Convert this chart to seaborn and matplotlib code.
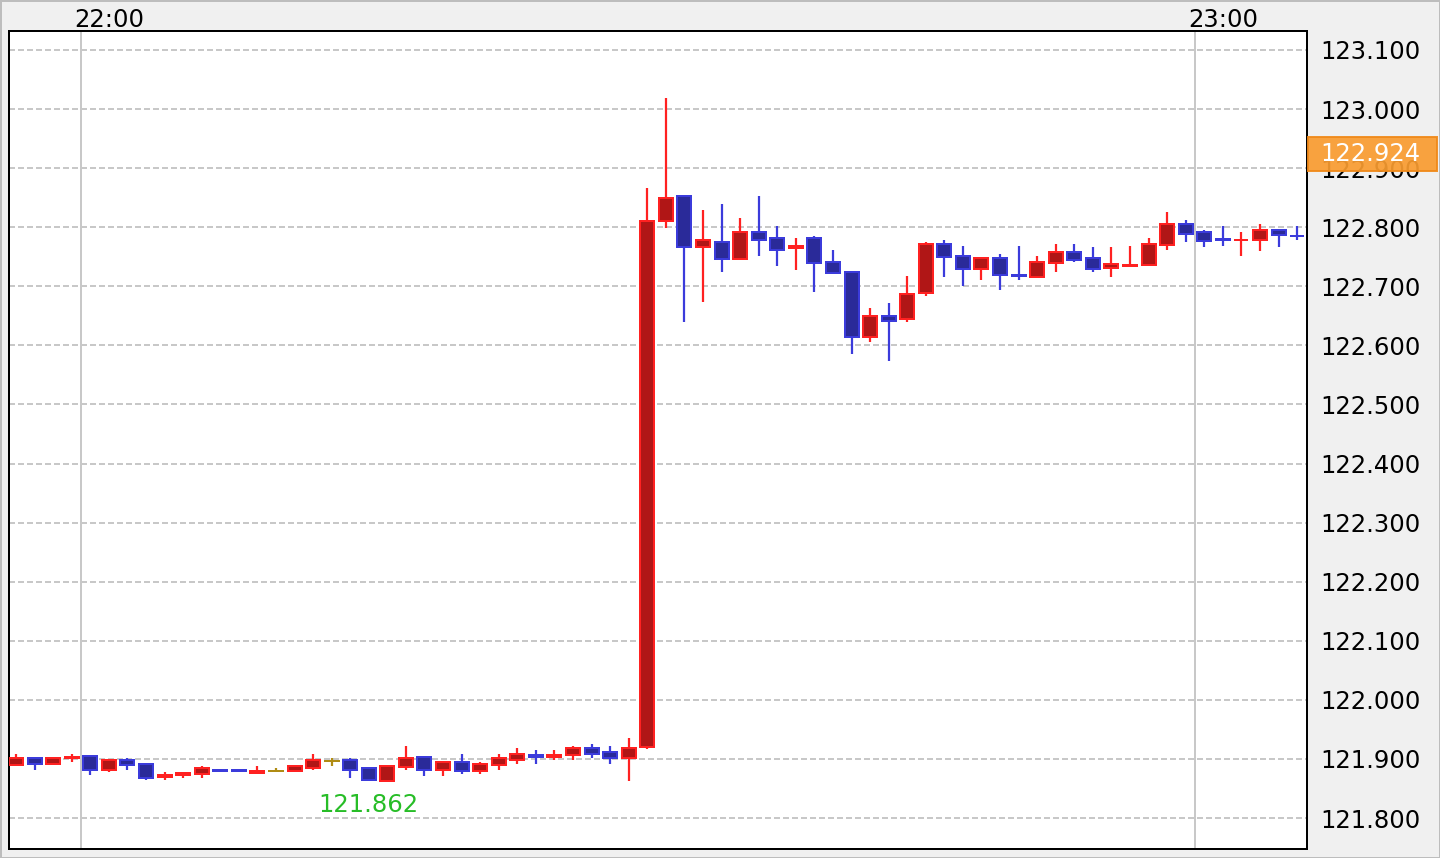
import numpy as np
import pandas as pd
import matplotlib
matplotlib.use("Agg")
import matplotlib.pyplot as plt
import matplotlib.transforms as mtransforms
from matplotlib.patches import Rectangle
import seaborn as sns

# 1-minute candles, 21:56 .. 23:05
times = pd.date_range("21:56", periods=70, freq="min").strftime("%H:%M").tolist()
opens = [121.890, 121.901, 121.892, 121.901, 121.905, 121.882, 121.898, 121.891, 121.869, 121.873,
         121.875, 121.882, 121.882, 121.877, 121.880, 121.879, 121.885, 121.897, 121.898, 121.884,
         121.863, 121.886, 121.904, 121.882, 121.894, 121.879, 121.889, 121.899, 121.906, 121.904,
         121.906, 121.918, 121.911, 121.902, 121.921, 122.810, 122.853, 122.766, 122.775, 122.746,
         122.792, 122.782, 122.765, 122.782, 122.741, 122.724, 122.614, 122.650, 122.644, 122.688,
         122.772, 122.751, 122.729, 122.748, 122.719, 122.716, 122.739, 122.758, 122.748, 122.731,
         122.734, 122.736, 122.770, 122.805, 122.792, 122.780, 122.778, 122.779, 122.796, 122.786]
highs = [121.908, 121.901, 121.901, 121.908, 121.905, 121.898, 121.902, 121.891, 121.878, 121.876,
         121.888, 121.882, 121.882, 121.888, 121.885, 121.888, 121.908, 121.902, 121.902, 121.884,
         121.888, 121.922, 121.904, 121.894, 121.908, 121.895, 121.908, 121.919, 121.915, 121.915,
         121.922, 121.925, 121.922, 121.935, 122.867, 123.019, 122.853, 122.829, 122.840, 122.816,
         122.853, 122.802, 122.782, 122.786, 122.762, 122.724, 122.664, 122.671, 122.718, 122.775,
         122.779, 122.769, 122.748, 122.755, 122.769, 122.751, 122.771, 122.771, 122.766, 122.766,
         122.769, 122.782, 122.826, 122.813, 122.795, 122.802, 122.792, 122.806, 122.796, 122.802]
lows = [121.890, 121.882, 121.892, 121.895, 121.872, 121.878, 121.882, 121.864, 121.864, 121.868,
        121.868, 121.880, 121.880, 121.877, 121.880, 121.879, 121.881, 121.888, 121.868, 121.862,
        121.863, 121.881, 121.871, 121.871, 121.875, 121.875, 121.881, 121.892, 121.892, 121.898,
        121.898, 121.902, 121.892, 121.863, 121.916, 122.799, 122.640, 122.674, 122.725, 122.746,
        122.752, 122.735, 122.728, 122.691, 122.722, 122.586, 122.606, 122.573, 122.640, 122.684,
        122.715, 122.701, 122.711, 122.694, 122.711, 122.715, 122.725, 122.741, 122.725, 122.715,
        122.734, 122.736, 122.762, 122.775, 122.766, 122.769, 122.752, 122.759, 122.766, 122.779]
closes = [121.901, 121.892, 121.901, 121.903, 121.882, 121.898, 121.889, 121.868, 121.872, 121.876,
          121.884, 121.880, 121.880, 121.879, 121.880, 121.888, 121.898, 121.897, 121.882, 121.865,
          121.888, 121.901, 121.882, 121.894, 121.879, 121.891, 121.901, 121.908, 121.904, 121.906,
          121.918, 121.909, 121.902, 121.918, 122.811, 122.849, 122.766, 122.778, 122.746, 122.792,
          122.779, 122.762, 122.769, 122.739, 122.722, 122.614, 122.650, 122.641, 122.687, 122.772,
          122.749, 122.729, 122.748, 122.719, 122.717, 122.741, 122.758, 122.745, 122.729, 122.737,
          122.736, 122.772, 122.805, 122.789, 122.776, 122.778, 122.779, 122.796, 122.787, 122.785]
y_ticks = [121.8, 121.9, 122.0, 122.1, 122.2, 122.3, 122.4, 122.5, 122.6, 122.7, 122.8, 122.9, 123.0, 123.1]
hour_marks = ["22:00", "23:00"]
min_label = "121.862"
last_price = 122.924

df = pd.DataFrame({"time": times, "open": opens, "high": highs, "low": lows, "close": closes})
t = pd.to_datetime(df["time"], format="%H:%M")
t0 = pd.to_datetime("22:00", format="%H:%M")
df["x"] = (t - t0).dt.total_seconds() / 60 + 0.5
df["dir"] = np.sign(df["close"] - df["open"])

UP_EDGE, UP_FILL = "#ff2121", "#b01616"
DN_EDGE, DN_FILL = "#3b3bdb", "#2a2a99"
DOJI = "#b08c14"
GRID = "#c8c8c8"
FS = 17.5
LW = 1.44  # 2 px

sns.set_theme(style="white")
plt.rcParams["font.family"] = ["DejaVu Sans"]

fig = plt.figure(figsize=(14.4, 8.58), dpi=100)
fig.patch.set_facecolor("#f0f0f0")
fig.patch.set_edgecolor("#bdbdbd")
fig.patch.set_linewidth(2)
ax = fig.add_axes([9 / 1440, 1 - 849 / 858, 1298 / 1440, 818 / 858])
ax.set_facecolor("white")

ax.set_xlim(-72 / 18.567, 1226 / 18.567)
ax.set_ylim(121.8 - 31 / 590.8, 123.1 + 19 / 590.8)

# grid
for v in y_ticks:
    ax.axhline(v, color=GRID, lw=LW, dashes=[3, 1.5], zorder=0)
for lab in hour_marks:
    xm = ((pd.to_datetime(lab, format="%H:%M") - t0).total_seconds()) / 60
    ax.axvline(xm, color=GRID, lw=LW, zorder=0)
    ax.annotate(lab, xy=(xm, 1), xycoords=("data", "axes fraction"),
                xytext=(-5, 3), textcoords="offset points",
                ha="left", va="baseline", fontsize=FS, color="black", annotation_clip=False)

# candles
for d, edge, fill in [(1, UP_EDGE, UP_FILL), (-1, DN_EDGE, DN_FILL), (0, DOJI, DOJI)]:
    sub = df[df["dir"] == d]
    ax.vlines(sub["x"], sub["low"], sub["high"], color=edge, lw=1.6, zorder=2)
    if d == 0:
        ax.hlines(sub["open"], sub["x"] - 0.43, sub["x"] + 0.43, color=edge, lw=LW, zorder=3)
    else:
        lo = np.minimum(sub["open"], sub["close"])
        ax.bar(sub["x"], (sub["close"] - sub["open"]).abs(), bottom=lo, width=0.754,
               color=fill, edgecolor=edge, linewidth=LW, zorder=3)

# lowest low label
imin = df["low"].idxmin()
ax.annotate(min_label, xy=(df.loc[imin, "x"], df.loc[imin, "low"]),
            xytext=(0, -8.5), textcoords="offset points", ha="center", va="top",
            fontsize=FS, color="#27bd27")

# axis
ax.yaxis.tick_right()
ax.set_yticks(y_ticks)
ax.set_yticklabels([f"{v:.3f}" for v in y_ticks], fontsize=FS, color="black")
ax.tick_params(axis="y", length=0, pad=9.5)
ax.set_xticks([])
for s in ax.spines.values():
    s.set_color("black")
    s.set_linewidth(LW)

# current price tag
tr = mtransforms.blended_transform_factory(ax.transAxes, ax.transData)
ax.add_patch(Rectangle((1.0008, last_price - 17 / 590.8), 129 / 1298, 34 / 590.8,
                       transform=tr, facecolor="#f99c30", edgecolor="#f08a1a",
                       lw=LW, alpha=0.92, clip_on=False, zorder=5))
ax.text((1320 - 9) / 1298, last_price, f"{last_price:.3f}", transform=tr,
        ha="left", va="center", fontsize=FS, color="white", clip_on=False, zorder=6)

fig.savefig("out.png", dpi=100, facecolor=fig.get_facecolor(), edgecolor=fig.patch.get_edgecolor())
